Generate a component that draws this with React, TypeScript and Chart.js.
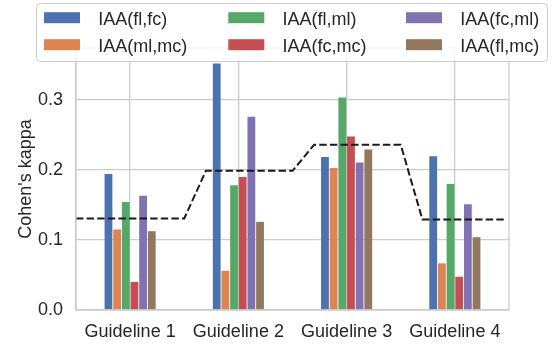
import React, { useEffect, useRef } from 'react';
import { Chart, registerables } from 'chart.js';

Chart.register(...registerables);

// ---- data ----
const categories = ['Guideline 1', 'Guideline 2', 'Guideline 3', 'Guideline 4'];
const seriesLabels = ['IAA(fl,fc)', 'IAA(ml,mc)', 'IAA(fl,ml)', 'IAA(fc,mc)', 'IAA(fc,ml)', 'IAA(fl,mc)'];
const iaaFlFc = [0.194, 0.352, 0.2185, 0.2195];
const iaaMlMc = [0.115, 0.056, 0.2027, 0.0666];
const iaaFlMl = [0.154, 0.178, 0.3035, 0.1798];
const iaaFcMc = [0.040, 0.190, 0.2476, 0.0475];
const iaaFcMl = [0.163, 0.2758, 0.2104, 0.1511];
const iaaFlMc = [0.1125, 0.1258, 0.229, 0.1039];
const meanKappa = [0.1307, 0.1986, 0.2359, 0.1292];
const yTicks = [0.0, 0.1, 0.2, 0.3];
const yLabel = "Cohen's kappa";

const seriesValues = [iaaFlFc, iaaMlMc, iaaFlMl, iaaFcMc, iaaFcMl, iaaFlMc];
const palette = ['#4C72B0', '#DD8452', '#55A868', '#C44E52', '#8172B3', '#937860'];

const FONT = "'Liberation Sans', Arial, sans-serif";
const TEXT = '#262626';
const GRID = '#cccccc';

// step-like mean line: each level spans from (i - 0.3) to (i + 0.5)
function meanLinePoints() {
  const pts: { x: number; y: number }[] = [];
  meanKappa.forEach((v, i) => {
    const start = i === 0 ? -0.5 : i - 0.3;
    const end = i === meanKappa.length - 1 ? i + 0.465 : i + 0.5;
    pts.push({ x: start, y: v });
    pts.push({ x: end, y: v });
  });
  return pts;
}

const framePlugin = {
  id: 'frame',
  afterDatasetsDraw(chart: any) {
    const { ctx, chartArea } = chart;
    ctx.save();
    ctx.strokeStyle = GRID;
    ctx.lineWidth = 1.3;
    ctx.strokeRect(chartArea.left, chartArea.top, chartArea.right - chartArea.left, chartArea.bottom - chartArea.top);
    ctx.restore();
  },
};

const legendPlugin = {
  id: 'mplLegend',
  afterDraw(chart: any) {
    const ctx = chart.ctx;
    const bars = chart.data.datasets.filter((d: any) => d.type !== 'line');
    ctx.save();
    ctx.beginPath();
    if (ctx.roundRect) ctx.roundRect(36.5, 3.5, 511, 58, 4);
    else ctx.rect(36.5, 3.5, 511, 58);
    ctx.fillStyle = 'rgba(255,255,255,0.8)';
    ctx.fill();
    ctx.strokeStyle = GRID;
    ctx.lineWidth = 1;
    ctx.stroke();
    const colX = [44, 228.3, 406];
    const rowY = [17.7, 44.7];
    ctx.font = `18px ${FONT}`;
    ctx.textBaseline = 'alphabetic';
    ctx.textAlign = 'left';
    bars.forEach((ds: any, k: number) => {
      const c = Math.floor(k / 2);
      const r = k % 2;
      const x = colX[c];
      const y = rowY[r];
      ctx.fillStyle = ds.backgroundColor;
      ctx.fillRect(x, y - 5.5, 36, 11);
      ctx.fillStyle = TEXT;
      ctx.fillText(ds.label, x + 54.3, y + 7.4);
    });
    ctx.restore();
  },
};

export default function App() {
  const ref = useRef<HTMLCanvasElement | null>(null);

  useEffect(() => {
    if (!ref.current) return;
    const barSets = seriesLabels.map((label, i) => ({
      type: 'bar' as const,
      label,
      data: seriesValues[i].map((v, j) => ({ x: j, y: v })),
      backgroundColor: palette[i],
      borderWidth: 0,
      categoryPercentage: 0.48,
      barPercentage: 0.9,
    }));
    const chart = new Chart(ref.current, {
      data: {
        datasets: [
          {
            type: 'line' as const,
            label: 'mean',
            data: meanLinePoints(),
            borderColor: '#1a1a1a',
            borderWidth: 2,
            borderDash: [7.4, 3.2],
            pointRadius: 0,
            fill: false,
            tension: 0,
            order: -1,
          } as any,
          ...barSets,
        ],
      },
      options: {
        responsive: false,
        animation: false,
        devicePixelRatio: 1,
        layout: { padding: { left: 0, top: 48, right: 43, bottom: 0 } },
        plugins: { legend: { display: false }, tooltip: { enabled: false } },
        scales: {
          x: {
            type: 'linear',
            offset: false,
            min: -0.5,
            max: 3.5,
            afterBuildTicks: (s: any) => { s.ticks = categories.map((_, i) => ({ value: i })); },
            grid: { offset: false, color: GRID, lineWidth: 1.3, drawTicks: false },
            border: { color: GRID, width: 1.3 },
            ticks: {
              color: TEXT,
              font: { family: FONT, size: 18 },
              padding: 11,
              maxRotation: 0,
              autoSkip: false,
              callback: (v: any) => categories[Math.round(Number(v))] ?? '',
            },
            afterFit: (s: any) => { s.height = 35; },
          },
          y: {
            type: 'linear',
            min: 0,
            max: 0.374,
            afterBuildTicks: (s: any) => { s.ticks = yTicks.map((v) => ({ value: v })); },
            grid: { color: GRID, lineWidth: 1.3, drawTicks: false },
            border: { color: GRID, width: 1.3 },
            ticks: {
              color: TEXT,
              font: { family: FONT, size: 18 },
              padding: 13,
              callback: (v: any) => Number(v).toFixed(1),
            },
            title: {
              display: true,
              text: yLabel,
              color: TEXT,
              font: { family: FONT, size: 18 },
              padding: { top: 15, bottom: 0 },
            },
            afterFit: (s: any) => { s.width = 76; },
          },
        },
      } as any,
      plugins: [framePlugin, legendPlugin],
    });
    return () => chart.destroy();
  }, []);

  return (
    <div style={{ position: 'fixed', left: 0, top: 0, width: 552, height: 345, background: '#fff' }}>
      <canvas ref={ref} width={552} height={345} style={{ width: 552, height: 345, display: 'block' }} />
    </div>
  );
}
